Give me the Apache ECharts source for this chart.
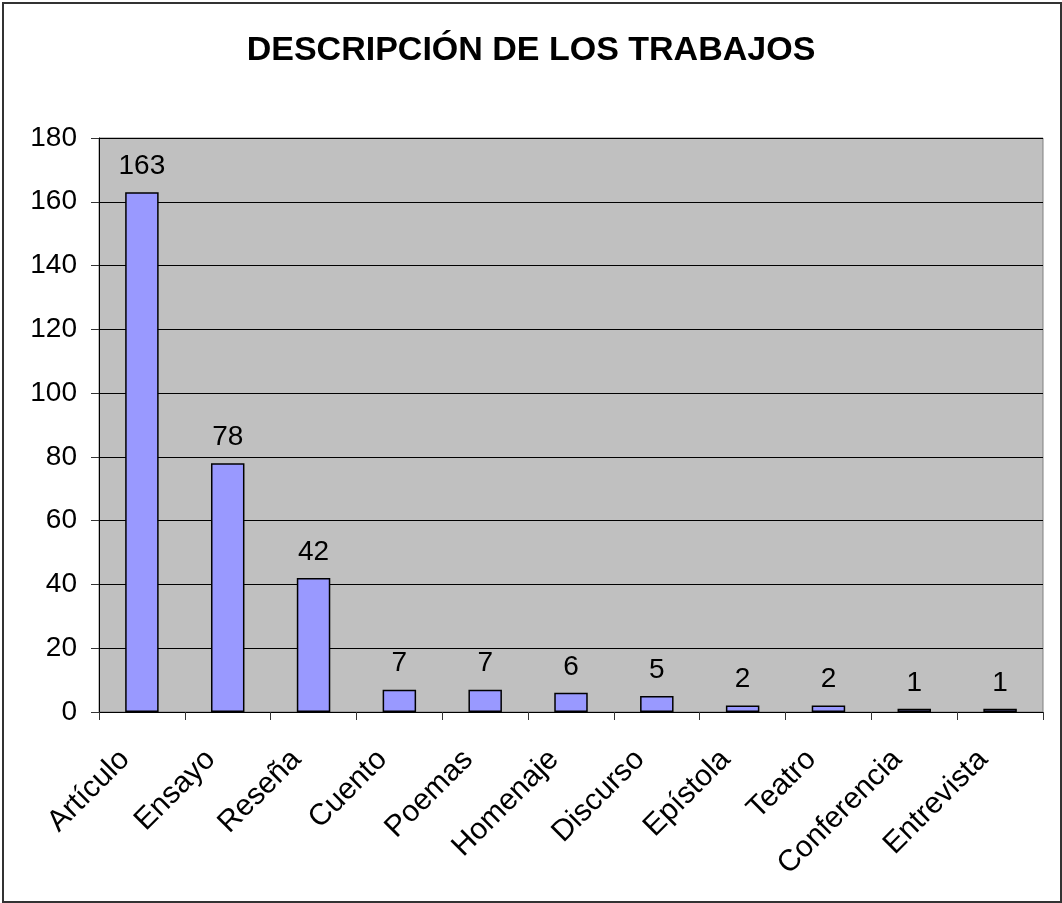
<!DOCTYPE html>
<html><head><meta charset="utf-8">
<script src="https://cdn.jsdelivr.net/npm/echarts@6/dist/echarts.min.js"></script>
<style>
html,body{margin:0;padding:0;background:#fff;}
#frame{position:absolute;left:2px;top:2px;width:1056px;height:897px;border:2px solid #333;box-sizing:content-box;}
#c{position:absolute;left:0;top:0;width:1062px;height:903px;}
</style></head>
<body>
<div id="frame"></div>
<div id="c"></div>
<script>
var categories = ['Artículo','Ensayo','Reseña','Cuento','Poemas','Homenaje','Discurso','Epístola','Teatro','Conferencia','Entrevista'];
var values = [163,78,42,7,7,6,5,2,2,1,1];
var title = 'DESCRIPCIÓN DE LOS TRABAJOS';
var yTicks = {min:0,max:180,interval:20};

var chart = echarts.init(document.getElementById('c'));
var font = 'Liberation Sans, Arial, sans-serif';
chart.setOption({
  animation:false,
  title:{text:title,left:'center',top:29,textStyle:{fontFamily:font,fontSize:34,fontWeight:'bold',color:'#000'}},
  grid:{left:99,right:19,top:138,bottom:191,show:true,backgroundColor:'#C0C0C0',borderColor:'#808080',borderWidth:1},
  xAxis:{type:'category',data:categories,
    axisLine:{lineStyle:{color:'#000',width:1}},
    axisTick:{show:true,alignWithLabel:false,length:8,lineStyle:{color:'#333'}},
    axisLabel:{rotate:45,fontFamily:font,fontSize:30,color:'#000',margin:26,padding:[0,24,0,0],interval:0}},
  yAxis:{type:'value',min:yTicks.min,max:yTicks.max,interval:yTicks.interval,
    axisLine:{show:true,lineStyle:{color:'#000'}},
    axisTick:{show:true,length:8,lineStyle:{color:'#333'}},
    splitLine:{lineStyle:{color:'#000',width:1}},
    axisLabel:{fontFamily:font,fontSize:28,color:'#000',margin:22}},
  series:[{type:'bar',data:values,barWidth:'39%',
    itemStyle:{color:'#9999FF',borderColor:'#000',borderWidth:1.5},
    label:{show:true,position:'top',distance:12,fontFamily:font,fontSize:28,color:'#000'}}]
});
</script>
</body></html>
